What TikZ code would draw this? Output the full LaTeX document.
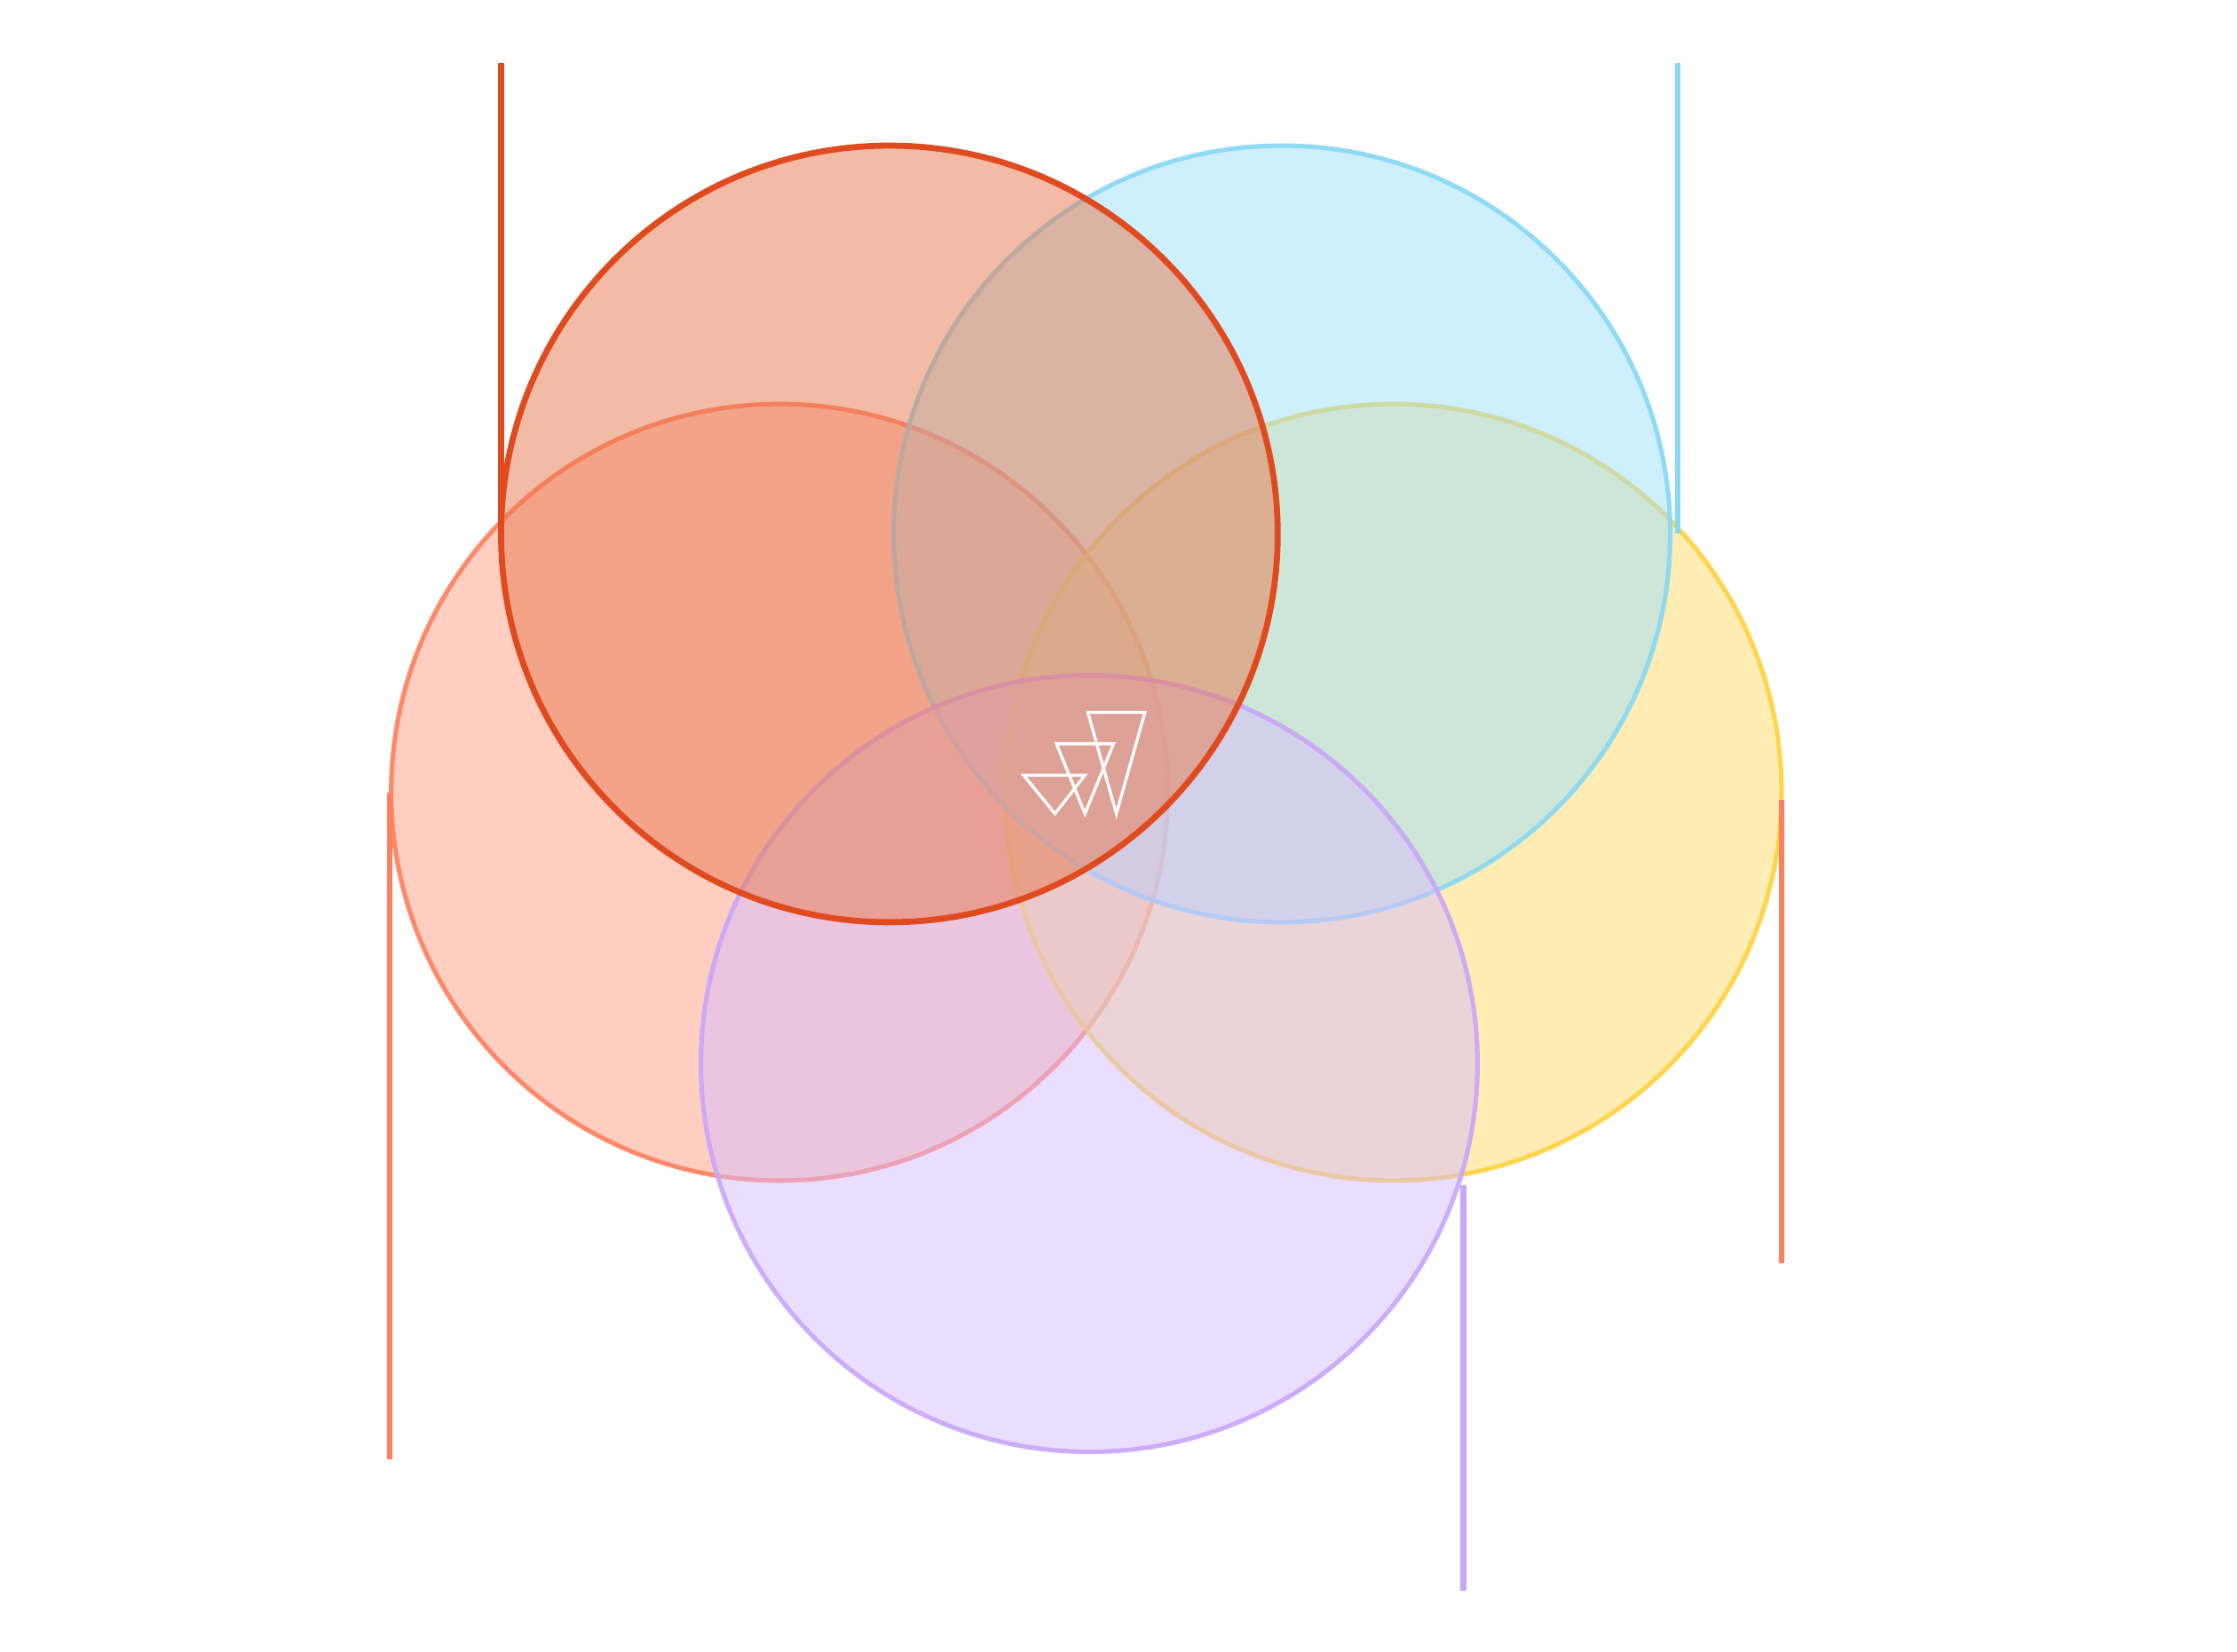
\documentclass[tikz,border=0pt]{standalone}
\begin{document}
\begin{tikzpicture}[x=0.01cm,y=-0.01cm]
\definecolor{cR}{HTML}{E04A1F}\definecolor{fR}{HTML}{E8794F}
\definecolor{cO}{HTML}{FF7F5E}\definecolor{fO}{HTML}{FF9F85}
\definecolor{cB}{HTML}{87D8F5}\definecolor{fB}{HTML}{9EE0FB}
\definecolor{cY}{HTML}{FFD23F}\definecolor{fY}{HTML}{FFDC6A}
\definecolor{cP}{HTML}{C8A6FA}\definecolor{fP}{HTML}{D9BDFD}
\tikzset{circ/.style={line width=0.9pt,fill opacity=0.5,draw opacity=0.9}}
\useasboundingbox[fill=white] (0,0) rectangle (1567,1157);
\draw[circ,draw=cO,fill=fO] (546,555) circle (272);
\draw[circ,draw=cY,fill=fY] (976,555) circle (272);
\draw[circ,draw=cB,fill=fB] (898,374) circle (272);
\draw[circ,draw=cP,fill=fP] (763,745) circle (272);
\draw[circ,draw=cR,fill=fR,line width=1.2pt,draw opacity=1] (623,374) circle (272);
\draw[cR,line width=1.1pt] (351,44) -- (351,374);
\draw[cB,line width=1.1pt] (1175,44) -- (1175,374);
\draw[cO,line width=1.1pt] (273,555) -- (273,1022);
\draw[cO,line width=1.1pt] (1248,560) -- (1248,885);
\draw[cP,line width=1.1pt] (1025,830) -- (1025,1114);
\draw[white,line width=0.6pt] (717,543) -- (760,543) -- (739,570) -- cycle;
\draw[white,line width=0.6pt] (740,521) -- (780,521) -- (760,570) -- cycle;
\draw[white,line width=0.6pt] (762,499) -- (802,499) -- (782,570) -- cycle;
\end{tikzpicture}
\end{document}
